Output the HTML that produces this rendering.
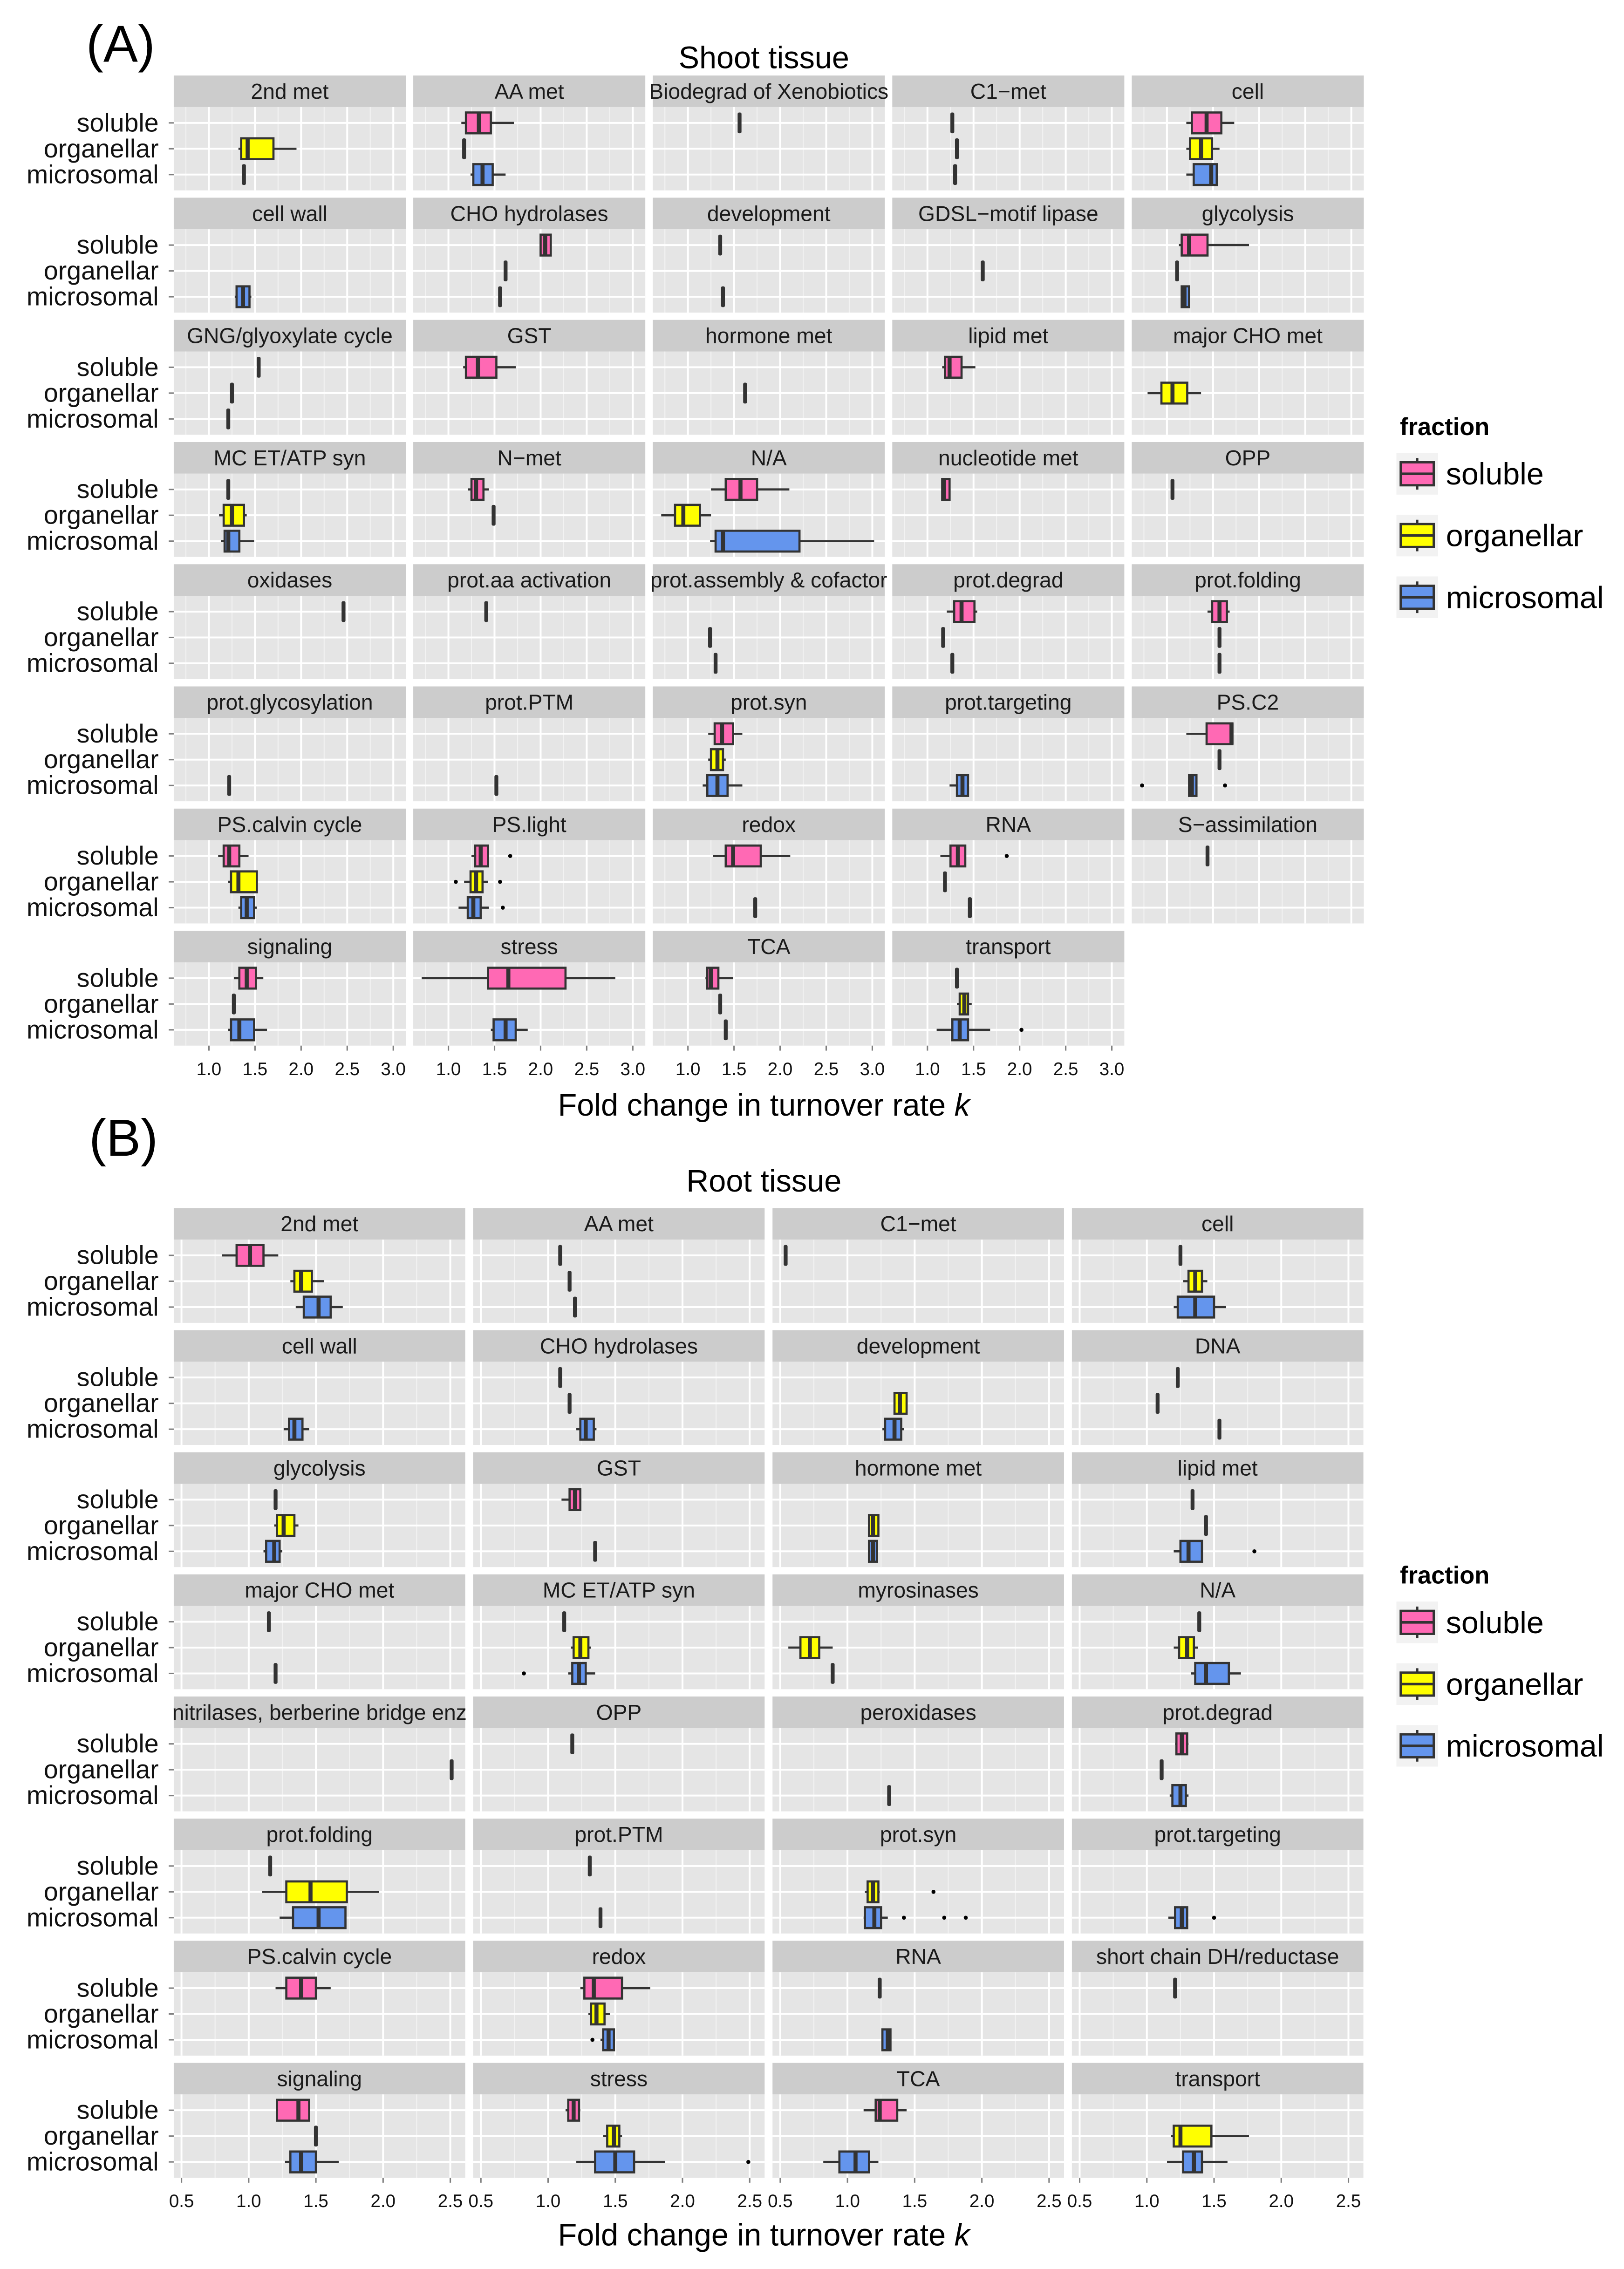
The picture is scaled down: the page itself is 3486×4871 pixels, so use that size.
<!DOCTYPE html>
<html><head><meta charset="utf-8"><title>Fold change in turnover rate</title>
<style>html,body{margin:0;padding:0;background:#fff;}svg{display:block;}</style></head>
<body>
<svg id="fig" xmlns="http://www.w3.org/2000/svg" width="3486" height="4871" viewBox="0 0 1131 1580.4" preserveAspectRatio="none" font-family="'Liberation Sans', Arial, sans-serif">
<rect width="1131" height="1580.4" fill="#fff"/>
</svg>
<script>
// ---------- Shoot data ----------
const shootFacets = ["2nd met","AA met","Biodegrad of Xenobiotics","C1\u2212met","cell",
"cell wall","CHO hydrolases","development","GDSL\u2212motif lipase","glycolysis",
"GNG/glyoxylate cycle","GST","hormone met","lipid met","major CHO met",
"MC ET/ATP syn","N\u2212met","N/A","nucleotide met","OPP",
"oxidases","prot.aa activation","prot.assembly & cofactor","prot.degrad","prot.folding",
"prot.glycosylation","prot.PTM","prot.syn","prot.targeting","PS.C2",
"PS.calvin cycle","PS.light","redox","RNA","S\u2212assimilation",
"signaling","stress","TCA","transport"];
// entries: null | single value | [lo, q1, median, q3, hi, ...outliers]
const shootSoluble = [null,[1.14,1.19,1.33,1.46,1.71],1.56,1.27,[1.21,1.27,1.43,1.59,1.73],
null,[2.00,2.00,2.05,2.11,2.11],1.35,null,[1.13,1.16,1.24,1.44,1.89],
1.54,[1.16,1.19,1.32,1.52,1.73],null,[1.16,1.19,1.24,1.37,1.52],null,
1.21,[1.21,1.25,1.30,1.38,1.44],[1.25,1.41,1.57,1.75,2.10],[1.16,1.16,1.18,1.24,1.24],1.06,
2.46,1.41,null,[1.21,1.29,1.37,1.51,1.54],[1.44,1.49,1.57,1.65,1.68],
null,null,[1.22,1.29,1.37,1.49,1.59],null,[1.21,1.43,1.70,1.71,1.71],
[1.10,1.16,1.22,1.33,1.43],[1.25,1.29,1.35,1.43,1.43,1.67],[1.27,1.41,1.49,1.79,2.11],[1.14,1.25,1.33,1.41,1.41,1.86],1.44,
[1.27,1.33,1.41,1.51,1.59],[0.71,1.43,1.65,2.27,2.81],[1.19,1.21,1.25,1.33,1.49],1.32];
const shootOrganellar = [[1.32,1.35,1.42,1.70,1.95],1.17,null,1.32,[1.21,1.25,1.37,1.49,1.57],
null,1.62,null,1.60,1.11,
1.25,null,1.62,null,[0.79,0.94,1.06,1.22,1.37],
[1.11,1.16,1.25,1.38,1.41],1.49,[0.71,0.86,0.95,1.13,1.25],null,null,
null,null,1.24,1.17,1.57,
null,null,[1.22,1.25,1.32,1.38,1.41],null,1.57,
[1.21,1.24,1.32,1.52,1.52],[1.17,1.24,1.30,1.37,1.43,1.08,1.56],null,1.19,null,
1.27,null,1.35,[1.32,1.35,1.40,1.44,1.48]];
const shootMicrosomal = [1.38,[1.24,1.27,1.37,1.48,1.62],null,1.30,[1.21,1.29,1.48,1.54,1.54],
[1.28,1.30,1.37,1.44,1.46],1.56,1.38,null,[1.16,1.16,1.19,1.24,1.24],
1.21,null,null,null,null,
[1.13,1.17,1.21,1.33,1.49],null,[1.24,1.30,1.38,2.21,3.02],null,null,
null,null,1.30,1.27,1.57,
1.22,1.52,[1.16,1.21,1.32,1.43,1.59],[1.24,1.32,1.38,1.44,1.44],[1.24,1.24,1.27,1.32,1.32,0.73,1.63],
[1.32,1.35,1.41,1.49,1.52],[1.11,1.21,1.27,1.35,1.44,1.59],1.73,1.46,null,
[1.21,1.24,1.33,1.49,1.63],[1.46,1.49,1.62,1.73,1.86],1.41,[1.10,1.27,1.35,1.44,1.68,2.02]];
const shootTicks = ["1.0","1.5","2.0","2.5","3.0"];

// ---------- Root data ----------
const rootFacets = ["2nd met","AA met","C1\u2212met","cell",
"cell wall","CHO hydrolases","development","DNA",
"glycolysis","GST","hormone met","lipid met",
"major CHO met","MC ET/ATP syn","myrosinases","N/A",
"nitrilases, berberine bridge enz","OPP","peroxidases","prot.degrad",
"prot.folding","prot.PTM","prot.syn","prot.targeting",
"PS.calvin cycle","redox","RNA","short chain DH/reductase",
"signaling","stress","TCA","transport"];
const rootSoluble = [[0.80,0.91,1.01,1.11,1.22],1.09,0.54,1.25,
null,1.09,null,1.23,
1.20,[1.10,1.16,1.20,1.24,1.24],null,1.34,
1.15,1.12,null,1.39,
null,1.18,null,[1.21,1.22,1.26,1.30,1.31],
1.16,1.31,null,null,
[1.20,1.28,1.39,1.50,1.61],[1.24,1.27,1.34,1.55,1.76],1.24,1.21,
[1.21,1.21,1.37,1.45,1.45],[1.13,1.15,1.19,1.23,1.24],[1.12,1.21,1.24,1.37,1.44],null];
const rootOrganellar = [[1.31,1.34,1.39,1.47,1.56],1.16,null,[1.27,1.31,1.36,1.41,1.45],
null,1.16,[1.35,1.35,1.39,1.44,1.44],1.08,
[1.19,1.21,1.26,1.34,1.37],null,[1.16,1.16,1.19,1.23,1.23],1.44,
null,[1.17,1.19,1.24,1.30,1.32],[0.56,0.65,0.72,0.79,0.89],[1.20,1.24,1.30,1.35,1.38],
2.51,null,null,1.11,
[1.10,1.28,1.46,1.73,1.97],null,[1.13,1.15,1.19,1.23,1.24,1.64],null,
null,[1.30,1.32,1.36,1.42,1.46],null,null,
1.50,[1.41,1.44,1.49,1.53,1.55],null,[1.18,1.20,1.25,1.48,1.76]];
const rootMicrosomal = [[1.35,1.41,1.52,1.61,1.70],1.20,null,[1.20,1.23,1.36,1.50,1.59],
[1.26,1.30,1.34,1.40,1.45],[1.21,1.24,1.28,1.34,1.36],[1.26,1.28,1.35,1.40,1.42],1.54,
[1.11,1.13,1.19,1.23,1.25],1.35,[1.16,1.16,1.19,1.22,1.22],[1.20,1.25,1.31,1.41,1.41,1.80],
1.20,[1.15,1.18,1.23,1.28,1.35,0.82],0.89,[1.33,1.36,1.44,1.61,1.70],
null,null,1.31,[1.17,1.19,1.25,1.29,1.31],
[1.23,1.33,1.52,1.72,1.72],1.39,[1.12,1.13,1.20,1.25,1.30,1.42,1.72,1.88],[1.16,1.21,1.26,1.30,1.30,1.50],
null,[1.39,1.41,1.45,1.49,1.49,1.33],[1.26,1.26,1.30,1.32,1.32],null,
[1.27,1.31,1.39,1.50,1.67],[1.21,1.35,1.50,1.64,1.87,2.49],[0.82,0.94,1.06,1.16,1.23],[1.15,1.27,1.35,1.41,1.60]];
const rootTicks = ["0.5","1.0","1.5","2.0","2.5"];

const fractions = ["soluble","organellar","microsomal"];
const fillColors = ["#ff69b4","#ffff00","#6495ed"];

const NS = "http://www.w3.org/2000/svg";
const svg = document.getElementById("fig");
function mk(tag, attrs, parent){
  const e = document.createElementNS(NS, tag);
  for (const k in attrs) e.setAttribute(k, attrs[k]);
  (parent||svg).appendChild(e);
  return e;
}
function txt(s, attrs, parent){ const t = mk("text", attrs, parent); t.textContent = s; return t; }

function drawStat(g, stat, sx, cy, color, fname){
  if (stat === null || stat === undefined) return;
  const h = 14.5;
  if (typeof stat === "number"){
    const r = mk("rect", {x: sx(stat)-1.35, y: cy-h/2, width: 2.7, height: h, rx: 1, fill: "#333333"}, g);
    
    
    return;
  }
  const lo = stat[0], q1 = stat[1], md = stat[2], q3 = stat[3], hi = stat[4];
  const wl = mk("line", {x1: sx(lo), x2: sx(q1), y1: cy, y2: cy, stroke: "#333333", "stroke-width": 1.5}, g);
  
  
  const wh = mk("line", {x1: sx(q3), x2: sx(hi), y1: cy, y2: cy, stroke: "#333333", "stroke-width": 1.5}, g);
  
  
  const w = Math.max(sx(q3)-sx(q1), 0.5);
  const b = mk("rect", {x: sx(q1), y: cy-h/2, width: w, height: h, fill: color, stroke: "#333333", "stroke-width": 1.5}, g);
  
  
  const m = mk("line", {x1: sx(md), x2: sx(md), y1: cy-h/2, y2: cy+h/2, stroke: "#333333", "stroke-width": 2.8}, g);
  
  
  for (let i = 5; i < stat.length; i++){
    const o = mk("circle", {cx: sx(stat[i]), cy: cy, r: 1.4, fill: "#000"}, g);
    
    
  }
}

function drawPanelSet(cfg){
  const {facets, sets, ticks, ncol, colLeft, colPitch, colW, rowTop, rowPitch, vmin, unitPx, majors, minors, axisCols, prefix} = cfg;
  const stripH = 22, bodyH = 58;
  facets.forEach((name, i) => {
    const r = Math.floor(i / ncol), c = i % ncol;
    const L = colLeft + c*colPitch;
    const T = rowTop + r*rowPitch;
    const BT = T + stripH;
    const sx = v => L + (v - vmin)*unitPx;
    const g = mk("g", {});
    
    
    const strip = mk("rect", {x: L, y: T, width: colW, height: stripH, fill: "#cccccc"}, g);
    
    
    const st = txt(name, {x: L + colW/2, y: T + 16.2, "text-anchor": "middle", "font-size": 15, fill: "#1a1a1a"}, g);
    
    
    const bg = mk("rect", {x: L, y: BT, width: colW, height: bodyH, fill: "#e5e5e5"}, g);
    
    
    minors.forEach(v => { const x = sx(v); if (x > L && x < L+colW) mk("line", {x1: x, x2: x, y1: BT, y2: BT+bodyH, stroke: "#f2f2f2", "stroke-width": 0.7}, g); });
    majors.forEach(v => { const x = sx(v); if (x > L && x < L+colW) mk("line", {x1: x, x2: x, y1: BT, y2: BT+bodyH, stroke: "#ffffff", "stroke-width": 1.3}, g); });
    for (let k = 0; k < 3; k++){
      const cy = BT + 11 + k*18;
      mk("line", {x1: L, x2: L+colW, y1: cy, y2: cy, stroke: "#ffffff", "stroke-width": 1.3}, g);
    }
    for (let k = 0; k < 3; k++){
      const cy = BT + 11 + k*18;
      drawStat(g, sets[k][i], sx, cy, fillColors[k], fractions[k]);
    }
    if (c === 0){
      for (let k = 0; k < 3; k++){
        const cy = BT + 11 + k*18;
        mk("line", {x1: L-3.5, x2: L, y1: cy, y2: cy, stroke: "#7f7f7f", "stroke-width": 1}, g);
        const yl = txt(fractions[k], {x: L-10.5, y: cy+6, "text-anchor": "end", "font-size": 18, fill: "#111"}, g);
        
        
      }
    }
  });
  axisCols.forEach(c => {
    const L = colLeft + c*colPitch;
    const lastRow = Math.floor((facets.length - 1 - c) / ncol);
    const B = rowTop + lastRow*rowPitch + stripH + bodyH;
    const sx = v => L + (v - vmin)*unitPx;
    const g = mk("g", {});
    
    
    ticks.forEach(t => {
      const x = sx(parseFloat(t));
      mk("line", {x1: x, x2: x, y1: B, y2: B+3.5, stroke: "#7f7f7f", "stroke-width": 1}, g);
      const tl = txt(t, {x: x, y: B+20.5, "text-anchor": "middle", "font-size": 12.5, fill: "#111"}, g);
      
      
    });
  });
}

function drawLegend(top, prefix){
  const g = mk("g", {});
  
  
  const t = txt("fraction", {x: 975, y: top + 6, "font-size": 17, "font-weight": "bold", fill: "#000"}, g);
  
  
  fractions.forEach((f, k) => {
    const cy = top + 33 + k*43;
    const e = mk("g", {}, g);
    
    
    mk("rect", {x: 972.5, y: cy-14.5, width: 29, height: 29, fill: "#f2f2f2"}, e);
    mk("line", {x1: 987, x2: 987, y1: cy-11, y2: cy+11, stroke: "#333", "stroke-width": 1.6}, e);
    mk("rect", {x: 975.5, y: cy-8, width: 23, height: 16, fill: fillColors[k], stroke: "#333", "stroke-width": 1.6}, e);
    mk("line", {x1: 975.5, x2: 998.5, y1: cy, y2: cy, stroke: "#333", "stroke-width": 1.8}, e);
    txt(f, {x: 1007, y: cy+7.5, "font-size": 21.5, fill: "#000"}, e);
  });
}

const ta = txt("(A)", {x: 60, y: 43, "font-size": 36, fill: "#000"});  
const st1 = txt("Shoot tissue", {x: 532, y: 47.5, "text-anchor": "middle", "font-size": 21.6, fill: "#000"});  
const tb = txt("(B)", {x: 62, y: 805, "font-size": 36, fill: "#000"});  
const st2 = txt("Root tissue", {x: 532, y: 830, "text-anchor": "middle", "font-size": 21.6, fill: "#000"});  

function axisTitle(y, name){
  const t = mk("text", {x: 532, y: y, "text-anchor": "middle", "font-size": 21.6, fill: "#000"});
  
  
  const a = mk("tspan", {}, t); a.textContent = "Fold change in turnover rate ";
  const b = mk("tspan", {"font-style": "italic"}, t); b.textContent = "k";
}

drawPanelSet({facets: shootFacets, sets: [shootSoluble, shootOrganellar, shootMicrosomal], ticks: shootTicks,
  ncol: 5, colLeft: 121, colPitch: 166.8, colW: 161.6, rowTop: 52.6, rowPitch: 85.1,
  vmin: 1 - 24.5/64.2, unitPx: 64.2, majors: [1,1.5,2,2.5,3], minors: [0.75,1.25,1.75,2.25,2.75],
  axisCols: [0,1,2,3], prefix: "shoot"});
axisTitle(777, "shoot-x-axis-title");
drawLegend(297, "shoot");

drawPanelSet({facets: rootFacets, sets: [rootSoluble, rootOrganellar, rootMicrosomal], ticks: rootTicks,
  ncol: 4, colLeft: 121, colPitch: 208.5, colW: 203, rowTop: 841.4, rowPitch: 85.06,
  vmin: 0.5 - 5.4/93.6, unitPx: 93.6, majors: [0.5,1,1.5,2,2.5], minors: [0.75,1.25,1.75,2.25],
  axisCols: [0,1,2,3], prefix: "root"});
axisTitle(1564, "root-x-axis-title");
drawLegend(1097, "root");
</script>
</body></html>
